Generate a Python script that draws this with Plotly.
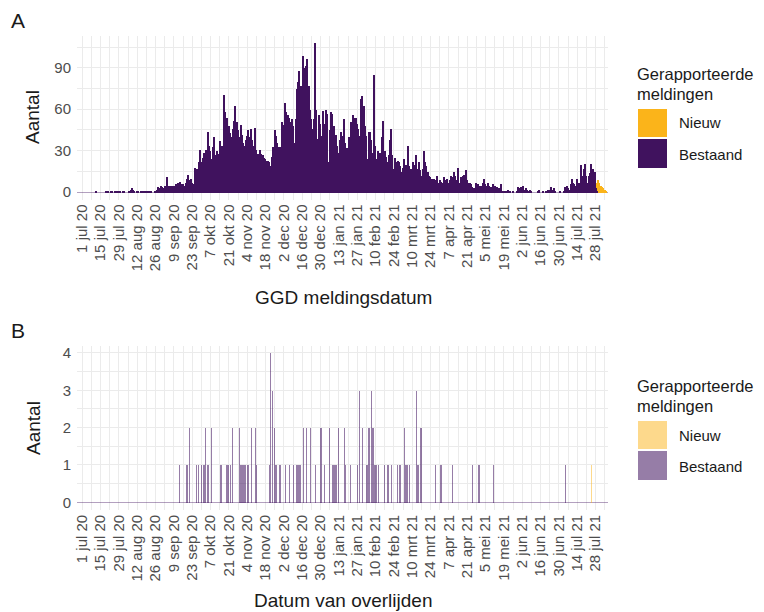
import pandas as pd
import plotly.graph_objects as go

# ---------------- data ----------------
start_date = "2020-07-01"

# Panel A: daily GGD reports (existing), from 1 jul 2020
bestaand_A = [
    0, 0, 0, 0, 0, 0, 0,
    0, 0, 0, 0, 1, 0, 0,
    0, 0, 0, 0, 1, 0, 1,
    0, 1, 1, 0, 1, 0, 1,
    1, 1, 0, 1, 1, 0, 0,
    0, 1, 2, 3, 2, 1, 0,
    1, 1, 0, 1, 1, 1, 0,
    1, 1, 0, 1, 1, 0, 0,
    1, 2, 4, 3, 5, 4, 3,
    5, 4, 11, 5, 3, 5, 5,
    5, 4, 6, 7, 5, 8, 6,
    6, 5, 7, 10, 13, 9, 10,
    7, 6, 18, 17, 17, 22, 31,
    22, 25, 29, 26, 31, 44, 34,
    30, 24, 33, 40, 27, 30, 28,
    37, 33, 34, 71, 58, 54, 54,
    48, 43, 40, 46, 52, 63, 51,
    45, 40, 49, 42, 36, 34, 38,
    41, 45, 40, 46, 38, 34, 47,
    31, 28, 21, 31, 28, 27, 25,
    24, 23, 23, 22, 19, 26, 33,
    45, 41, 36, 33, 29, 33, 51,
    49, 65, 58, 56, 54, 51, 53,
    48, 36, 53, 75, 80, 88, 77,
    58, 99, 90, 92, 97, 77, 60,
    53, 46, 53, 108, 60, 39, 56,
    50, 41, 59, 50, 60, 57, 22,
    45, 58, 57, 48, 36, 42, 34,
    29, 38, 44, 41, 53, 36, 32,
    27, 40, 51, 48, 56, 54, 54,
    50, 46, 41, 68, 70, 63, 48,
    41, 24, 44, 44, 38, 29, 85,
    34, 24, 30, 29, 29, 40, 52,
    30, 26, 22, 27, 38, 46, 27,
    17, 25, 22, 23, 22, 19, 15,
    18, 24, 20, 17, 34, 19, 17,
    14, 22, 20, 27, 17, 22, 16,
    12, 17, 30, 22, 19, 15, 12,
    11, 10, 7, 10, 9, 12, 7,
    9, 8, 7, 11, 9, 6, 10,
    7, 9, 12, 11, 15, 12, 9,
    18, 7, 11, 10, 12, 13, 16,
    9, 7, 7, 6, 4, 3, 2,
    7, 6, 5, 4, 5, 7, 10,
    6, 5, 7, 5, 4, 3, 6,
    5, 2, 4, 3, 2, 6, 1,
    1, 0, 1, 2, 0, 1, 0,
    1, 0, 0, 1, 4, 3, 4,
    4, 5, 2, 3, 2, 1, 2,
    1, 0, 0, 0, 0, 1, 2,
    0, 0, 1, 0, 1, 0, 2,
    2, 4, 2, 3, 1, 0, 0,
    0, 1, 0, 0, 1, 4, 5,
    3, 2, 6, 10, 7, 6, 5,
    10, 7, 7, 20, 12, 17, 21,
    12, 7, 12, 14, 21, 17, 10,
    15, 3, 1, 0, 0, 0, 0,
    0, 0,
]
# Panel A: newly reported (days since 1 jul 2020)
nieuw_A_days = [393, 394, 395, 396, 397, 398, 399, 400]
nieuw_A_vals = [4, 8, 7, 5, 4, 3, 2, 1]

# Panel B: deaths per day (days since 1 jul 2020)
bestaand_B_days = [74, 80, 82, 87, 89, 91, 93, 94, 96, 99,
                   106, 110, 111, 112, 113, 115, 120, 121, 122, 123,
                   124, 125, 126, 127, 129, 132, 133, 143, 144, 145,
                   147, 148, 151, 155, 158, 161, 164, 165, 166, 167,
                   169, 171, 174, 178, 182, 183, 185, 189, 191, 192,
                   193, 194, 196, 200, 201, 205, 210, 212, 214, 217,
                   218, 219, 221, 222, 223, 224, 225, 226, 231, 233,
                   234, 236, 241, 242, 243, 246, 247, 248, 250, 255,
                   256, 257, 258, 259, 270, 274, 283, 298, 303, 314,
                   369]
bestaand_B_vals = [1, 1, 2, 1, 1, 1, 1, 2, 1, 2,
                   1, 1, 1, 1, 1, 2, 2, 1, 1, 1,
                   1, 1, 1, 1, 2, 2, 1, 1, 4, 3,
                   2, 1, 1, 1, 1, 1, 1, 1, 1, 1,
                   2, 2, 2, 1, 2, 2, 1, 2, 1, 1,
                   1, 1, 2, 2, 1, 1, 1, 3, 2, 1,
                   1, 2, 3, 2, 1, 1, 1, 1, 1, 1,
                   1, 1, 1, 1, 1, 2, 1, 1, 1, 3,
                   1, 1, 2, 2, 1, 1, 1, 1, 1, 1,
                   1]
nieuw_B_days = [389]
nieuw_B_vals = [1]

tick_dates = pd.date_range("2020-07-01", periods=29, freq="14D")
tick_labels = ["1 jul 20", "15 jul 20", "29 jul 20", "12 aug 20", "26 aug 20",
               "9 sep 20", "23 sep 20", "7 okt 20", "21 okt 20", "4 nov 20",
               "18 nov 20", "2 dec 20", "16 dec 20", "30 dec 20", "13 jan 21",
               "27 jan 21", "10 feb 21", "24 feb 21", "10 mrt 21", "24 mrt 21",
               "7 apr 21", "21 apr 21", "5 mei 21", "19 mei 21", "2 jun 21",
               "16 jun 21", "30 jun 21", "14 jul 21", "28 jul 21"]
minor_dates = pd.date_range("2020-07-08", periods=29, freq="14D")

# ---------------- build ----------------
t0 = pd.Timestamp(start_date)
def to_dates(days):
    return [t0 + pd.Timedelta(days=int(d)) for d in days]

dates_A = to_dates(range(len(bestaand_A)))

PURPLE = "#40125E"
ORANGE = "#FBB41A"
PURPLE_L = "rgba(64,18,94,0.55)"
ORANGE_L = "rgba(251,180,26,0.5)"
DAY = 86400000

fig = go.Figure()
fig.add_trace(go.Bar(x=dates_A, y=bestaand_A, marker_color=PURPLE,
                     marker_line_width=0, xaxis="x", yaxis="y", showlegend=False))
fig.add_trace(go.Bar(x=to_dates(nieuw_A_days), y=nieuw_A_vals, marker_color=ORANGE,
                     marker_line_width=0, width=DAY, xaxis="x", yaxis="y", showlegend=False))
fig.add_trace(go.Bar(x=to_dates(bestaand_B_days), y=bestaand_B_vals, marker_color=PURPLE_L,
                     marker_line_width=0, width=DAY * 0.85, xaxis="x2", yaxis="y2", showlegend=False))
fig.add_trace(go.Bar(x=to_dates(nieuw_B_days), y=nieuw_B_vals, marker_color=ORANGE_L,
                     marker_line_width=0, width=DAY * 0.85, xaxis="x2", yaxis="y2", showlegend=False))

x_range = [t0 - pd.Timedelta(days=4), t0 + pd.Timedelta(days=401.5)]
FONT = "Liberation Sans, Arial, sans-serif"
GRID = "#EBEBEB"
xdom = [77 / 764, 608 / 764]

def xaxis_cfg(anchor):
    return dict(domain=xdom, anchor=anchor, type="date", range=x_range, automargin=False,
                tickmode="array", tickvals=tick_dates, ticktext=tick_labels,
                tickangle=-90, tickfont=dict(size=15, color="#4D4D4D", family=FONT),
                showgrid=True, gridcolor=GRID, gridwidth=1.4, zeroline=False,
                showline=False, ticks="", ticklabelstandoff=1,
                minor=dict(tickmode="array", tickvals=minor_dates, showgrid=True,
                           gridcolor=GRID, gridwidth=0.9))

def yaxis_cfg(anchor, dom, rng, tv, mv):
    return dict(domain=dom, anchor=anchor, range=rng, automargin=False,
                tickmode="array", tickvals=tv,
                tickfont=dict(size=15, color="#4D4D4D", family=FONT),
                showgrid=True, gridcolor=GRID, gridwidth=1.4,
                zeroline=True, zerolinecolor="rgba(64,18,94,0.4)", zerolinewidth=1,
                showline=False, ticks="", ticklabelstandoff=5,
                minor=dict(tickmode="array", tickvals=mv, showgrid=True,
                           gridcolor=GRID, gridwidth=0.9))

fig.update_layout(
    width=764, height=612,
    margin=dict(l=0, r=0, t=0, b=0, autoexpand=False),
    paper_bgcolor="white", plot_bgcolor="white",
    barmode="stack", bargap=0,
    font=dict(family=FONT, color="#1A1A1A"),
    xaxis=xaxis_cfg("y"),
    yaxis=yaxis_cfg("x", [1 - 199.5 / 612, 1 - 35.5 / 612], [-5.4, 113.4],
                    [0, 30, 60, 90], [15, 45, 75, 105]),
    xaxis2=xaxis_cfg("y2"),
    yaxis2=yaxis_cfg("x2", [1 - 509.8 / 612, 1 - 345.5 / 612], [-0.2, 4.2],
                     [0, 1, 2, 3, 4], [0.5, 1.5, 2.5, 3.5]),
)

def px(x):
    return x / 764
def py(y):
    return 1 - y / 612

ann = []
def text(x, y, s, size, xanchor="left", angle=0, color="#1A1A1A"):
    ann.append(dict(x=px(x), y=py(y), xref="paper", yref="paper", text=s,
                    showarrow=False, xanchor=xanchor, yanchor="middle",
                    textangle=angle, font=dict(size=size, color=color, family=FONT)))

text(9, 21, "A", 21)
text(9, 330, "B", 21)
text(33, 117, "Aantal", 19, xanchor="center", angle=-90)
text(33, 428, "Aantal", 19, xanchor="center", angle=-90)
text(343, 297, "GGD meldingsdatum", 19, xanchor="center")
text(343, 600, "Datum van overlijden", 19, xanchor="center")

shapes = []
def legend(top, c_new, c_old):
    text(635, top - 35, "Gerapporteerde", 16.5)
    text(635, top - 15, "meldingen", 16.5)
    shapes.append(dict(type="rect", xref="paper", yref="paper",
                       x0=px(638), x1=px(667), y0=py(top), y1=py(top + 28),
                       fillcolor=c_new, line=dict(width=0)))
    shapes.append(dict(type="rect", xref="paper", yref="paper",
                       x0=px(638), x1=px(667), y0=py(top + 30), y1=py(top + 59),
                       fillcolor=c_old, line=dict(width=0)))
    text(677, top + 14, "Nieuw", 15)
    text(677, top + 45, "Bestaand", 15)

legend(109, ORANGE, PURPLE)
legend(421, ORANGE_L, PURPLE_L)

fig.update_layout(annotations=ann, shapes=shapes)
fig.write_html("out.html", config={"displayModeBar": False},
               post_script="document.body.style.margin='0';document.body.style.overflow='hidden';")
